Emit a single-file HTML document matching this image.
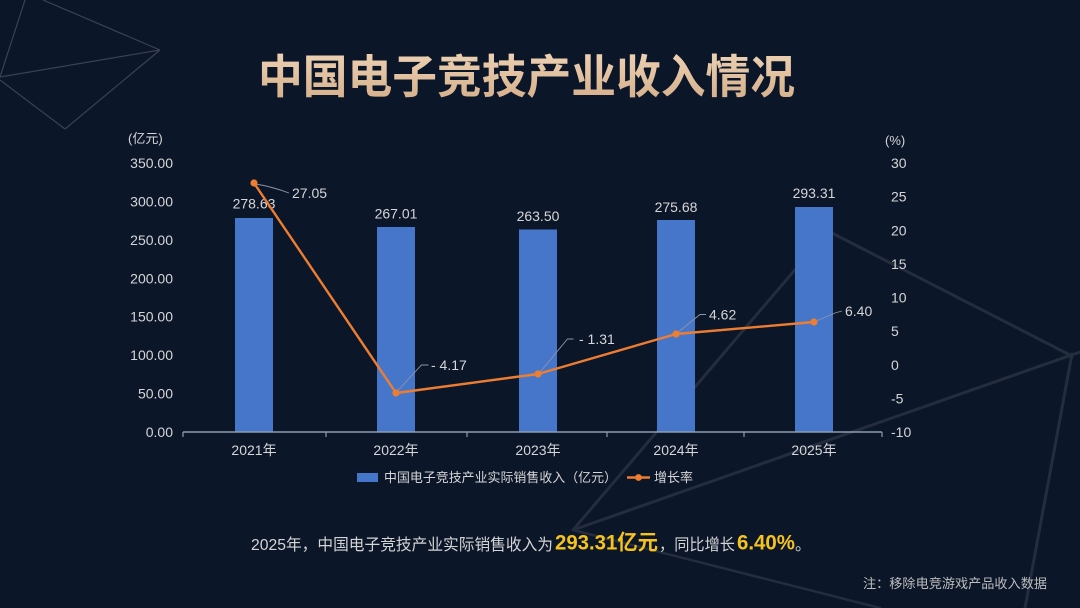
<!DOCTYPE html>
<html>
<head>
<meta charset="utf-8">
<style>
  html,body{margin:0;padding:0;background:#0b1629;}
  body{width:1080px;height:608px;overflow:hidden;}
  svg{display:block;}
  text{font-family:"Liberation Sans","Noto Sans CJK SC",sans-serif;}
</style>
</head>
<body>
<svg width="1080" height="608" viewBox="0 0 1080 608" xmlns="http://www.w3.org/2000/svg">
  <defs>
    <linearGradient id="tg" x1="0" y1="0" x2="0" y2="1">
      <stop offset="0" stop-color="#f2d9bc"/>
      <stop offset="1" stop-color="#d2ab86"/>
    </linearGradient>
  </defs>
  <rect x="0" y="0" width="1080" height="608" fill="#0b1629"/>

  <!-- background decorative lines top-left -->
  <g stroke="#3a4252" stroke-width="1.2" fill="none">
    <line x1="25" y1="0" x2="0" y2="77"/>
    <line x1="43" y1="0" x2="160" y2="50"/>
    <line x1="0" y1="77" x2="160" y2="50"/>
    <line x1="160" y1="50" x2="65" y2="129"/>
    <line x1="0" y1="80" x2="65" y2="129"/>
  </g>
  <!-- background decorative lines bottom-right -->
  <g stroke="#232d3d" stroke-width="3" fill="none" stroke-linecap="round">
    <line x1="828" y1="231" x2="1072" y2="356"/>
    <line x1="828" y1="231" x2="573" y2="530"/>
    <line x1="573" y1="530" x2="1080" y2="352"/>
    <line x1="1072" y1="354" x2="1025" y2="608"/>
    <line x1="573" y1="530" x2="880" y2="608" stroke-width="2.5"/>
  </g>

  <!-- Title -->
  <text x="258" y="93" font-size="46" font-weight="bold" fill="url(#tg)" textLength="537" lengthAdjust="spacingAndGlyphs" style='font-family:"Noto Sans CJK SC","WenQuanYi Zen Hei",sans-serif;'>中国电子竞技产业收入情况</text>

  <!-- axis unit labels -->
  <text x="128" y="143" font-size="13" fill="#d6d6d6">(亿元)</text>
  <text x="885" y="145" font-size="13" fill="#d6d6d6">(%)</text>

  <!-- left axis labels -->
  <g font-size="14" fill="#d6d6d6" text-anchor="end">
    <text x="173" y="168">350.00</text>
    <text x="173" y="206.4">300.00</text>
    <text x="173" y="244.9">250.00</text>
    <text x="173" y="283.3">200.00</text>
    <text x="173" y="321.7">150.00</text>
    <text x="173" y="360.1">100.00</text>
    <text x="173" y="398.6">50.00</text>
    <text x="173" y="437">0.00</text>
  </g>

  <!-- right axis labels -->
  <g font-size="14" fill="#d6d6d6">
    <text x="891" y="168">30</text>
    <text x="891" y="201.6">25</text>
    <text x="891" y="235.3">20</text>
    <text x="891" y="268.9">15</text>
    <text x="891" y="302.5">10</text>
    <text x="891" y="336.1">5</text>
    <text x="891" y="369.8">0</text>
    <text x="891" y="403.4">-5</text>
    <text x="891" y="437">-10</text>
  </g>

  <!-- bars -->
  <g fill="#4676ca">
    <rect x="235" y="218" width="38" height="214"/>
    <rect x="377" y="227" width="38" height="205"/>
    <rect x="519" y="229.5" width="38" height="202.5"/>
    <rect x="657" y="220" width="38" height="212"/>
    <rect x="795" y="207" width="38" height="225"/>
  </g>

  <!-- bar labels -->
  <g font-size="14" fill="#d6d6d6" text-anchor="middle">
    <text x="254" y="208.5">278.63</text>
    <text x="396" y="218.5">267.01</text>
    <text x="538" y="221">263.50</text>
    <text x="676" y="212">275.68</text>
    <text x="814" y="198">293.31</text>
  </g>

  <!-- x axis -->
  <line x1="183" y1="432" x2="882" y2="432" stroke="#8d9bb0" stroke-width="1.5"/>
  <g stroke="#8d9bb0" stroke-width="1.2">
    <line x1="183" y1="432" x2="183" y2="437"/>
    <line x1="326" y1="432" x2="326" y2="437"/>
    <line x1="467" y1="432" x2="467" y2="437"/>
    <line x1="607" y1="432" x2="607" y2="437"/>
    <line x1="744" y1="432" x2="744" y2="437"/>
    <line x1="882" y1="432" x2="882" y2="437"/>
  </g>
  <g font-size="14" fill="#d6d6d6" text-anchor="middle">
    <text x="254" y="455">2021年</text>
    <text x="396" y="455">2022年</text>
    <text x="538" y="455">2023年</text>
    <text x="676" y="455">2024年</text>
    <text x="814" y="455">2025年</text>
  </g>

  <!-- leader lines -->
  <g stroke="#8b95a7" stroke-width="0.9" fill="none">
    <path d="M255 184 Q270 186 289 193"/>
    <path d="M396.5 392 L421.5 365 L428.5 365"/>
    <path d="M538.5 374 L567.5 339 L573.5 339"/>
    <path d="M676.5 333.5 L700 314.5 L706 314.5"/>
    <path d="M814 322 L835 313 L842 311"/>
  </g>

  <!-- growth line -->
  <polyline points="254,183 396,393 538,374 676,334 814,322" fill="none" stroke="#ed7d31" stroke-width="2.4" stroke-linejoin="round"/>
  <g fill="#ed7d31">
    <circle cx="254" cy="183" r="3.6"/>
    <circle cx="396" cy="393" r="3.6"/>
    <circle cx="538" cy="374" r="3.6"/>
    <circle cx="676" cy="334" r="3.6"/>
    <circle cx="814" cy="322" r="3.6"/>
  </g>

  <!-- growth labels -->
  <g font-size="14" fill="#d6d6d6">
    <text x="292" y="198">27.05</text>
    <text x="431" y="370">- 4.17</text>
    <text x="579" y="344">- 1.31</text>
    <text x="709" y="319.5">4.62</text>
    <text x="845" y="316">6.40</text>
  </g>

  <!-- legend -->
  <rect x="357" y="473" width="21" height="9" fill="#4676ca"/>
  <text x="384" y="482" font-size="13" fill="#d6d6d6" textLength="233" lengthAdjust="spacingAndGlyphs">中国电子竞技产业实际销售收入（亿元）</text>
  <line x1="627" y1="477.5" x2="650" y2="477.5" stroke="#ed7d31" stroke-width="2.4"/>
  <circle cx="638.5" cy="477.5" r="3.4" fill="#ed7d31"/>
  <text x="654" y="482" font-size="13" fill="#d6d6d6" textLength="39" lengthAdjust="spacingAndGlyphs">增长率</text>

  <!-- summary -->
  <text x="251" y="550" font-size="16" fill="#d4d4d4" textLength="302" lengthAdjust="spacingAndGlyphs">2025年，中国电子竞技产业实际销售收入为</text>
  <text x="555" y="549.5" font-size="21" font-weight="bold" fill="#f6c31c" textLength="103" lengthAdjust="spacingAndGlyphs">293.31亿元</text>
  <text x="659" y="550" font-size="16" fill="#d4d4d4" textLength="76" lengthAdjust="spacingAndGlyphs">，同比增长</text>
  <text x="737" y="549.5" font-size="21" font-weight="bold" fill="#f6c31c" textLength="58" lengthAdjust="spacingAndGlyphs">6.40%</text>
  <text x="795" y="550" font-size="16" fill="#d4d4d4">。</text>

  <!-- note -->
  <text x="863" y="588" font-size="13" fill="#bdbdbd" textLength="184" lengthAdjust="spacingAndGlyphs">注：移除电竞游戏产品收入数据</text>
</svg>
</body>
</html>
